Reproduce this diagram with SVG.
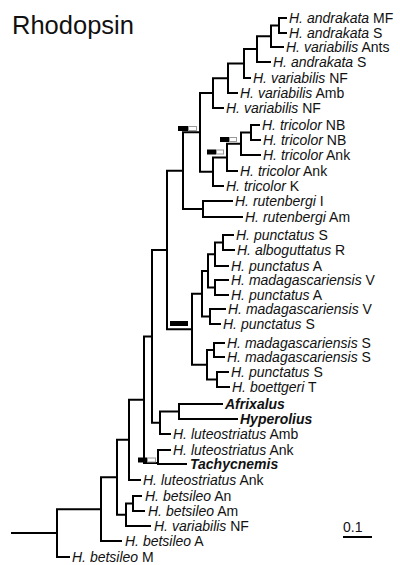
<svg xmlns="http://www.w3.org/2000/svg" width="400" height="565" viewBox="0 0 400 565">
<style>
.br{fill:none;stroke:#000;stroke-width:2;stroke-linecap:square}
text{font-family:"Liberation Sans",Arial,sans-serif;font-size:14px;fill:#111}
.sp{font-style:italic}
.bd{font-style:italic;font-weight:bold}
.mb{fill:#000}
.mw{fill:#fff;stroke:#999;stroke-width:1}
</style>
<rect width="400" height="565" fill="#fff"/>
<text x="12" y="34" style="font-size:25.5px">Rhodopsin</text>
<g id="connectors">
<path class="br" d="M279 18V33M279 18H286M279 33H286
M271 25.5V47M271 25.5H279M271 47H283
M257 36.25V62M257 36.25H271M257 62H270
M244 49V78M244 49H257M244 78H250
M228 63.5V93M228 63.5H244M228 93H237
M213 78.25V108M213 78.25H228M213 108H223
M251 125V140M251 125H259M251 140H260
M241 132.5V155M241 132.5H251M241 155H260
M227 143.75V171M227 143.75H241M227 171H237
M213 157.4V186M213 157.4H227M213 186H223
M200 93V171.7M200 93H213M200 171.7H213
M203 201V217M203 201H232M203 217H242
M183 132.3V209M183 132.3H200M183 209H203
M223 235V250M223 235H233M223 250H234
M215 242.5V266M215 242.5H223M215 266H228
M215 280V295M215 280H228M215 295H228
M208 254.25V287.5M208 254.25H215M208 287.5H215
M210 309V324M210 309H225M210 324H220
M202 270.9V316.5M202 270.9H208M202 316.5H210
M214 343V357M214 343H224M214 357H224
M217 372V387M217 372H228M217 387H229
M207 350V379.5M207 350H214M207 379.5H217
M192 293.7V364.75M192 293.7H202M192 364.75H207
M167 170.7V329.2M167 170.7H183M167 329.2H192
M179 404V419M179 404H222M179 419H237
M160 411.5V434M160 411.5H179M160 434H170
M152 250V422.75M152 250H167M152 422.75H160
M158 450V464M158 450H170M158 464H186
M144 336.4V463M144 336.4H152M144 463H158
M129 399.7V480M129 399.7H144M129 480H140
M133 496V511M133 496H141M133 511H144
M126 503.5V526M126 503.5H133M126 526H150
M117 439.85V514.75M117 439.85H129M117 514.75H126
M101 477.3V541M101 477.3H117M101 541H121
M57 509.15V557M57 509.15H101M57 557H69
M12 533H57"/>
</g>
<g id="markers">
<rect class="mb" x="178" y="126" width="10" height="5"/><rect class="mw" x="188.5" y="126.5" width="8" height="4"/>
<rect class="mb" x="220" y="137" width="9" height="5"/><rect class="mw" x="229.5" y="137.5" width="7" height="4"/>
<rect class="mb" x="207" y="149.5" width="9" height="5"/><rect class="mw" x="216.5" y="150" width="7" height="4"/>
<rect class="mb" x="170" y="321" width="18" height="5"/>
<rect class="mb" x="138" y="457.5" width="9" height="5"/><rect class="mw" x="147.5" y="458" width="8" height="4"/>
</g>
<g id="tip1"><text x="289" y="23"><tspan class="sp">H. andrakata</tspan> MF</text></g>
<g id="tip2"><text x="289" y="38"><tspan class="sp">H. andrakata</tspan> S</text></g>
<g id="tip3"><text x="286" y="52"><tspan class="sp">H. variabilis</tspan> Ants</text></g>
<g id="tip4"><text x="273" y="67"><tspan class="sp">H. andrakata</tspan> S</text></g>
<g id="tip5"><text x="253" y="83"><tspan class="sp">H. variabilis</tspan> NF</text></g>
<g id="tip6"><text x="240" y="98"><tspan class="sp">H. variabilis</tspan> Amb</text></g>
<g id="tip7"><text x="226" y="113"><tspan class="sp">H. variabilis</tspan> NF</text></g>
<g id="tip8"><text x="262" y="130"><tspan class="sp">H. tricolor</tspan> NB</text></g>
<g id="tip9"><text x="263" y="145"><tspan class="sp">H. tricolor</tspan> NB</text></g>
<g id="tip10"><text x="263" y="160"><tspan class="sp">H. tricolor</tspan> Ank</text></g>
<g id="tip11"><text x="240" y="176"><tspan class="sp">H. tricolor</tspan> Ank</text></g>
<g id="tip12"><text x="226" y="191"><tspan class="sp">H. tricolor</tspan> K</text></g>
<g id="tip13"><text x="235" y="206"><tspan class="sp">H. rutenbergi</tspan> I</text></g>
<g id="tip14"><text x="245" y="222"><tspan class="sp">H. rutenbergi</tspan> Am</text></g>
<g id="tip15"><text x="236" y="240"><tspan class="sp">H. punctatus</tspan> S</text></g>
<g id="tip16"><text x="237" y="255"><tspan class="sp">H. alboguttatus</tspan> R</text></g>
<g id="tip17"><text x="231" y="271"><tspan class="sp">H. punctatus</tspan> A</text></g>
<g id="tip18"><text x="231" y="285"><tspan class="sp">H. madagascariensis</tspan> V</text></g>
<g id="tip19"><text x="231" y="300"><tspan class="sp">H. punctatus</tspan> A</text></g>
<g id="tip20"><text x="228" y="314"><tspan class="sp">H. madagascariensis</tspan> V</text></g>
<g id="tip21"><text x="223" y="329"><tspan class="sp">H. punctatus</tspan> S</text></g>
<g id="tip22"><text x="227" y="348"><tspan class="sp">H. madagascariensis</tspan> S</text></g>
<g id="tip23"><text x="227" y="362"><tspan class="sp">H. madagascariensis</tspan> S</text></g>
<g id="tip24"><text x="231" y="377"><tspan class="sp">H. punctatus</tspan> S</text></g>
<g id="tip25"><text x="232" y="392"><tspan class="sp">H. boettgeri</tspan> T</text></g>
<g id="tip26"><text x="225" y="409" class="bd">Afrixalus</text></g>
<g id="tip27"><text x="240" y="424" class="bd">Hyperolius</text></g>
<g id="tip28"><text x="173" y="439"><tspan class="sp">H. luteostriatus</tspan> Amb</text></g>
<g id="tip29"><text x="173" y="455"><tspan class="sp">H. luteostriatus</tspan> Ank</text></g>
<g id="tip30"><text x="190" y="469" class="bd">Tachycnemis</text></g>
<g id="tip31"><text x="143" y="485"><tspan class="sp">H. luteostriatus</tspan> Ank</text></g>
<g id="tip32"><text x="145" y="501"><tspan class="sp">H. betsileo</tspan> An</text></g>
<g id="tip33"><text x="148" y="516"><tspan class="sp">H. betsileo</tspan> Am</text></g>
<g id="tip34"><text x="154" y="531"><tspan class="sp">H. variabilis</tspan> NF</text></g>
<g id="tip35"><text x="125" y="546"><tspan class="sp">H. betsileo</tspan> A</text></g>
<g id="tip36"><text x="72" y="562"><tspan class="sp">H. betsileo</tspan> M</text></g>
<g id="scalebar">
<text x="343" y="532">0.1</text>
<path class="br" d="M344 537H371"/>
</g>
</svg>
